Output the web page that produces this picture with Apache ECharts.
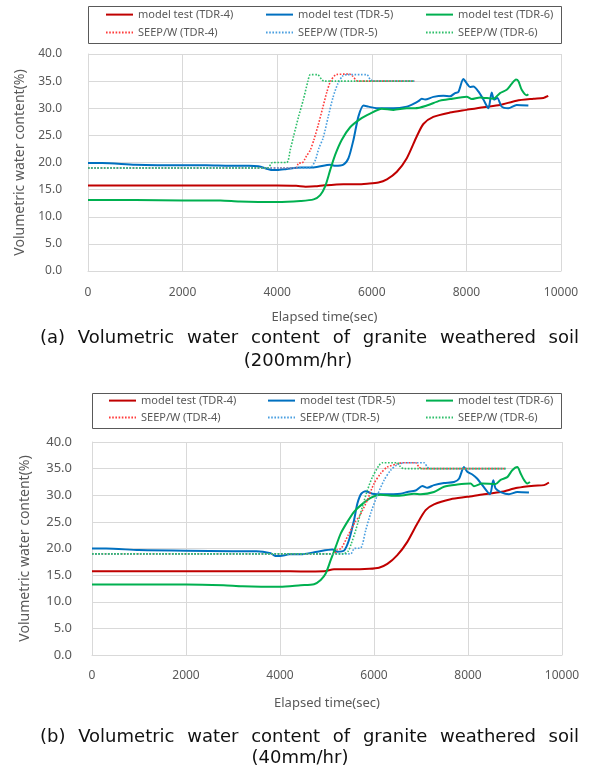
<!DOCTYPE html>
<html>
<head>
<meta charset="utf-8">
<script src="https://cdn.jsdelivr.net/npm/echarts@6/dist/echarts.min.js"></script>
<style>html,body{margin:0;padding:0;background:#fff}#c{width:592px;height:779px}</style>
</head>
<body>
<div id="c"></div>
<script>
// ---------- DATA ----------
const seriesNames = ['model test (TDR-4)','model test (TDR-5)','model test (TDR-6)','SEEP/W (TDR-4)','SEEP/W (TDR-5)','SEEP/W (TDR-6)'];
const xTicks = [0,2000,4000,6000,8000,10000];
const yTicks = [0,5,10,15,20,25,30,35,40];
const xAxisTitle = 'Elapsed time(sec)';
const yAxisTitle = 'Volumetric water content(%)';
const captionA = ['(a) Volumetric water content of granite weathered soil','(200mm/hr)'];
const captionB = ['(b) Volumetric water content of granite weathered soil','(40mm/hr)'];

// (a) 200 mm/hr  — [time(sec), VWC(%)]
const a_model4 = [[0,15.75],[1000,15.75],[2000,15.75],[3000,15.75],[4000,15.75],[4400,15.7],[4600,15.55],[4800,15.6],[5000,15.8],[5200,15.9],[5400,16.0],[5700,16.0],[5900,16.1],[6140,16.3],[6320,16.9],[6530,18.3],[6740,20.8],[6950,24.8],[7090,27.1],[7300,28.4],[7650,29.2],[8000,29.7],[8360,30.2],[8710,30.6],[9060,31.4],[9420,31.75],[9630,31.9],[9730,32.3]];
const a_model5 = [[0,19.9],[300,19.9],[1000,19.6],[2000,19.5],[2500,19.5],[3000,19.4],[3400,19.4],[3600,19.3],[3800,18.8],[3900,18.6],[4000,18.6],[4200,18.8],[4490,19.1],[4770,19.1],[5120,19.6],[5225,19.4],[5400,19.6],[5507,20.8],[5613,24.2],[5718,28.5],[5824,30.5],[5930,30.3],[6106,30.0],[6458,30.0],[6739,30.3],[6880,30.8],[6986,31.3],[7056,31.75],[7127,31.6],[7302,32.1],[7514,32.3],[7654,32.2],[7760,32.8],[7830,33.0],[7936,35.4],[8007,34.6],[8077,33.9],[8147,34.0],[8253,33.1],[8359,31.6],[8464,30.0],[8535,32.9],[8584,31.6],[8654,31.9],[8746,30.3],[8887,30.0],[9063,30.6],[9310,30.5]];
const a_model6 = [[0,13.1],[1000,13.1],[2000,13.0],[2800,13.0],[3200,12.8],[4000,12.7],[4490,12.9],[4770,13.2],[4910,14.0],[5014,15.6],[5120,18.6],[5225,21.4],[5366,24.2],[5542,26.5],[5754,28.0],[5965,29.0],[6211,29.9],[6458,29.7],[6739,30.0],[6915,30.0],[7162,30.5],[7443,31.4],[7654,31.7],[8007,32.1],[8112,31.7],[8288,32.0],[8570,31.75],[8711,32.8],[8852,33.4],[8957,34.5],[9049,35.3],[9099,35.0],[9169,33.4],[9275,32.4],[9310,32.6]];
const a_seep4 = [[0,19.0],[4400,19.0],[4450,19.9],[4520,19.9],[4620,21.2],[4700,22.3],[4780,24.3],[4870,27.0],[4960,30.0],[5050,33.0],[5130,35.0],[5250,36.2],[5530,36.3],[5600,35.9],[5700,35.0],[6900,35.0]];
const a_seep5 = [[0,19.0],[4700,19.0],[4740,19.3],[4810,20.5],[4880,22.6],[4970,24.5],[5080,28.5],[5180,32.0],[5280,34.5],[5380,35.9],[5480,36.2],[5894,36.2],[5965,35.3],[6035,35.0],[6900,35.0]];
const a_seep6 = [[0,19.0],[3800,19.0],[3900,20.0],[4200,20.0],[4275,22.3],[4345,24.8],[4450,28.4],[4550,31.5],[4650,35.0],[4700,36.2],[4850,36.2],[4950,35.2],[5000,35.0],[6900,35.0]];

// (b) 40 mm/hr
const b_model4 = [[0,15.75],[2000,15.75],[4000,15.75],[4440,15.7],[4940,15.75],[5150,16.1],[5500,16.1],[5900,16.2],[6106,16.4],[6284,17.1],[6496,18.75],[6709,21.25],[6922,24.7],[7099,27.2],[7276,28.3],[7631,29.25],[7985,29.7],[8340,30.2],[8694,30.6],[9049,31.4],[9403,31.8],[9616,31.9],[9722,32.4]];
const b_model5 = [[0,20.0],[300,20.0],[1000,19.7],[2000,19.6],[3000,19.5],[3500,19.5],[3800,19.1],[3900,18.6],[4000,18.6],[4200,18.9],[4440,18.9],[4795,19.4],[5114,19.8],[5220,19.4],[5362,19.6],[5468,21.6],[5575,25.3],[5645,28.4],[5730,30.3],[5823,30.75],[5965,30.3],[6213,30.2],[6567,30.3],[6709,30.6],[6886,30.9],[7028,31.75],[7134,31.4],[7276,31.9],[7489,32.3],[7702,32.5],[7808,33.1],[7914,35.3],[7985,34.4],[8092,33.9],[8198,33.1],[8305,31.9],[8467,30.2],[8538,32.8],[8588,31.25],[8694,30.6],[8872,30.2],[9049,30.6],[9297,30.5]];
const b_model6 = [[0,13.25],[2000,13.25],[2800,13.1],[3200,12.9],[4000,12.8],[4440,13.1],[4724,13.3],[4866,14.1],[4972,15.3],[5078,17.8],[5185,20.3],[5291,22.8],[5433,25.0],[5575,26.9],[5717,28.1],[5929,29.5],[6142,30.1],[6425,29.9],[6638,30.0],[6851,30.3],[6993,30.2],[7276,30.6],[7489,31.6],[7773,32.0],[8056,32.2],[8127,31.7],[8305,32.2],[8588,32.1],[8694,32.9],[8836,33.4],[8942,34.7],[9049,35.3],[9120,34.1],[9190,32.9],[9261,32.2],[9318,32.5]];
const b_seep4 = [[0,19.0],[5150,19.0],[5220,19.8],[5300,20.0],[5450,22.5],[5600,25.0],[5700,26.2],[5858,29.1],[6000,32.2],[6142,34.1],[6284,35.3],[6496,35.9],[6600,36.1],[6886,36.1],[6957,35.3],[7028,35.0],[8800,35.0]];
const b_seep5 = [[0,19.0],[5500,19.0],[5580,20.0],[5717,20.1],[5823,23.4],[5929,26.6],[6071,30.0],[6213,32.8],[6354,34.7],[6496,35.75],[6650,36.1],[7063,36.1],[7134,35.3],[7205,35.0],[8800,35.0]];
const b_seep6 = [[0,19.0],[5350,19.0],[5450,19.5],[5520,21.0],[5610,23.4],[5752,27.8],[5858,30.9],[5965,33.4],[6106,35.6],[6177,36.1],[6496,36.1],[6567,35.3],[6638,35.0],[8800,35.0]];

// ---------- STYLE ----------
const FONT = '"Noto Sans", sans-serif';
const CAPFONT = '18px "DejaVu Sans", sans-serif';
const GRAY = '#595959';
const GRID = '#D9D9D9';
const colors = ['#C00000','#0070C0','#00B050','#FF3B3B','#4A9FE0','#2EBF6A'];

const chart = echarts.init(document.getElementById('c'), null, {renderer:'canvas'});

function xAx(gi, margin, gap){
  return {type:'value', gridIndex:gi, min:xTicks[0], max:xTicks[xTicks.length-1], interval:xTicks[1]-xTicks[0],
    axisLine:{show:true, lineStyle:{color:GRID}}, axisTick:{show:false},
    splitLine:{show:true, lineStyle:{color:GRID, width:1}},
    axisLabel:{color:GRAY, fontSize:12, fontFamily:FONT, margin:margin, formatter:v=>String(v)},
    name:xAxisTitle, nameLocation:'middle', nameGap:gap,
    nameTextStyle:{color:GRAY, fontSize:13, fontFamily:FONT}};
}
function yAx(gi, margin, gap, fs){
  return {type:'value', gridIndex:gi, min:yTicks[0], max:yTicks[yTicks.length-1], interval:yTicks[1]-yTicks[0],
    axisLine:{show:true, lineStyle:{color:GRID}}, axisTick:{show:false},
    splitLine:{show:true, lineStyle:{color:GRID, width:1}},
    axisLabel:{color:GRAY, fontSize:fs, fontFamily:FONT, margin:margin, formatter:v=>v.toFixed(1)},
    name:yAxisTitle, nameLocation:'middle', nameGap:gap,
    nameTextStyle:{color:GRAY, fontSize:14, fontFamily:FONT}};
}
function mk(name, data, gi, idx){
  const dotted = idx >= 3;
  return {name, type:'line', xAxisIndex:gi, yAxisIndex:gi, data, showSymbol:false, symbol:'none',
    smooth:0.25, z: dotted ? 3 : 2, animation:false,
    lineStyle:{color:colors[idx], width: dotted ? 1.6 : 2, type: dotted ? [1.6,1.6] : 'solid'},
    itemStyle:{color:colors[idx]}};
}
const setA = [a_model4,a_model5,a_model6,a_seep4,a_seep5,a_seep6];
const setB = [b_model4,b_model5,b_model6,b_seep4,b_seep5,b_seep6];
const series = [];
setA.forEach((d,i)=>series.push(mk(seriesNames[i], d, 0, i)));
setB.forEach((d,i)=>series.push(mk(seriesNames[i], d, 1, i)));

// one legend per item so that columns line up like the original
function legendsFor(cols, rows){
  const out = [];
  seriesNames.forEach((n,i)=>{
    out.push({data:[n], left:cols[i%3], top:rows[Math.floor(i/3)], padding:0, orient:'horizontal',
      itemWidth:27, itemHeight:14, itemGap:0, selectedMode:false,
      itemStyle:{opacity:0},
      textStyle:{color:GRAY, fontSize:11, fontFamily:FONT}});
  });
  return out;
}

// justified caption line (word positions measured with canvas)
const mctx = document.createElement('canvas').getContext('2d');
function justified(text, x0, x1, y){
  mctx.font = CAPFONT;
  const words = text.split(' ');
  const ws = words.map(w=>mctx.measureText(w).width);
  const total = ws.reduce((a,b)=>a+b,0);
  const gap = (x1-x0-total)/(words.length-1);
  let x = x0; const els = [];
  words.forEach((w,i)=>{
    els.push({type:'text', style:{text:w, x:x, y:y, textAlign:'left', textVerticalAlign:'middle', fill:'#111', font:CAPFONT}});
    x += ws[i] + gap;
  });
  return els;
}
function centered(text, x, y){
  return {type:'text', style:{text, x, y, textAlign:'center', textVerticalAlign:'middle', fill:'#111', font:CAPFONT}};
}

chart.setOption({
  animation:false,
  backgroundColor:'#fff',
  grid:[
    {left:88, top:54, width:473, height:217},
    {left:92, top:442, width:470, height:213}
  ],
  xAxis:[xAx(0,16,40), xAx(1,15,42)],
  yAxis:[yAx(0,26,57,12), yAx(1,20,60,13)],
  legend:[...legendsFor([105,265,425],[9,27]), ...legendsFor([108,267,425],[395,412])],
  graphic:[
    {type:'rect', shape:{x:88.5, y:6.5, width:473, height:37}, style:{fill:'none', stroke:'#595959', lineWidth:1}, z:-1},
    {type:'rect', shape:{x:92.5, y:393.5, width:469, height:35}, style:{fill:'none', stroke:'#595959', lineWidth:1}, z:-1},
    ...justified(captionA[0], 40, 579, 338), centered(captionA[1], 298, 361),
    ...justified(captionB[0], 40, 579, 737), centered(captionB[1], 300, 758)
  ],
  series
});
</script>
</body>
</html>
